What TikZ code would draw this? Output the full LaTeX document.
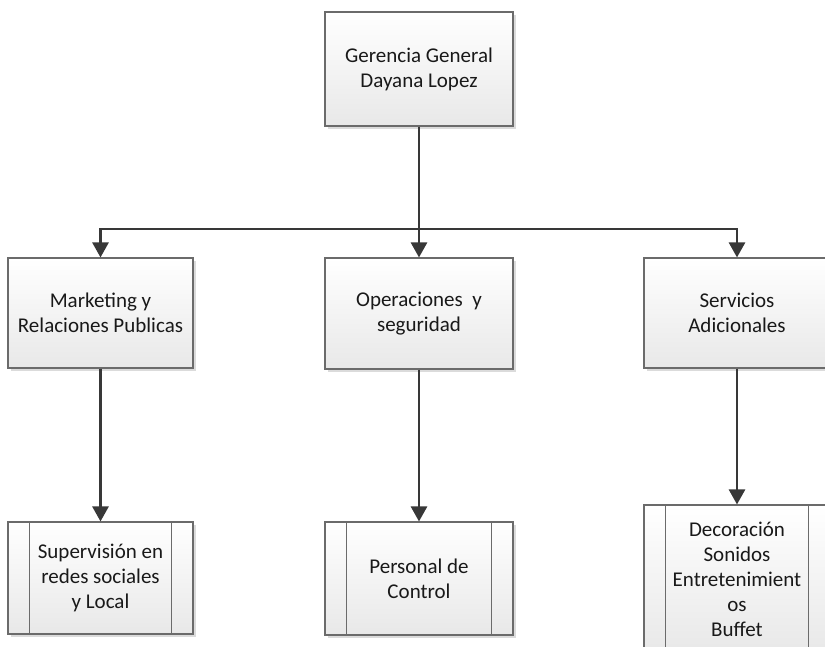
\documentclass[tikz,border=0pt]{standalone}
\usepackage{fontspec}
\setmainfont{Carlito}
\usetikzlibrary{arrows.meta,shadows}
\begin{document}
\begin{tikzpicture}[x=1pt,y=-1pt,
  box/.style={draw=black!58, line width=1.1pt, top color=white, bottom color=black!9,
    drop shadow={shadow xshift=3pt, shadow yshift=-3pt, fill=black!14, opacity=1},
    align=center, inner sep=0pt, font=\fontsize{21}{25}\selectfont, text=black!90},
  conn/.style={draw=black!78, line width=2.6pt, -{Triangle[width=16pt,length=15pt]}},
  plain/.style={draw=black!78, line width=2.6pt},
  inner/.style={draw=black!58, line width=1.1pt}]
\useasboundingbox (0,0) rectangle (825,646);
\begin{scope}
\clip (0,0) rectangle (825,646);
\node[box, minimum width=188pt, minimum height=114pt] (top) at (419,69) {Gerencia General\\Dayana Lopez};
\node[box, minimum width=185pt, minimum height=110pt] (m1) at (100.5,313) {Marketing y\\Relaciones Publicas};
\node[box, minimum width=188pt, minimum height=111pt] (m2) at (419,313.5) {Operaciones~ y\\seguridad};
\node[box, minimum width=186pt, minimum height=110pt] (m3) at (737,313) {Servicios\\Adicionales};
\node[box, minimum width=185pt, minimum height=112pt] (b1) at (100.5,578) {Supervisión en\\redes sociales\\y Local};
\node[box, minimum width=188pt, minimum height=113pt] (b2) at (419,578.5) {Personal de\\Control};
\node[box, minimum width=186pt, minimum height=148pt] (b3) at (737,579) {Decoración\\Sonidos\\Entretenimient\\os\\Buffet};
\foreach \n in {b1,b2,b3}{
  \draw[inner] ([xshift=22pt]\n.north west) -- ([xshift=22pt]\n.south west);
  \draw[inner] ([xshift=-22pt]\n.north east) -- ([xshift=-22pt]\n.south east);
}
\coordinate (j) at (419,229);
\draw[plain] (top.south) -- (j);
\draw[conn] (j) -| (m1.north);
\draw[conn] (j) -| (m3.north);
\draw[conn] (j) -- (m2.north);
\draw[conn] (m1.south) -- (b1.north);
\draw[conn] (m2.south) -- (b2.north);
\draw[conn] (m3.south) -- (b3.north);
\end{scope}
\end{tikzpicture}
\end{document}
